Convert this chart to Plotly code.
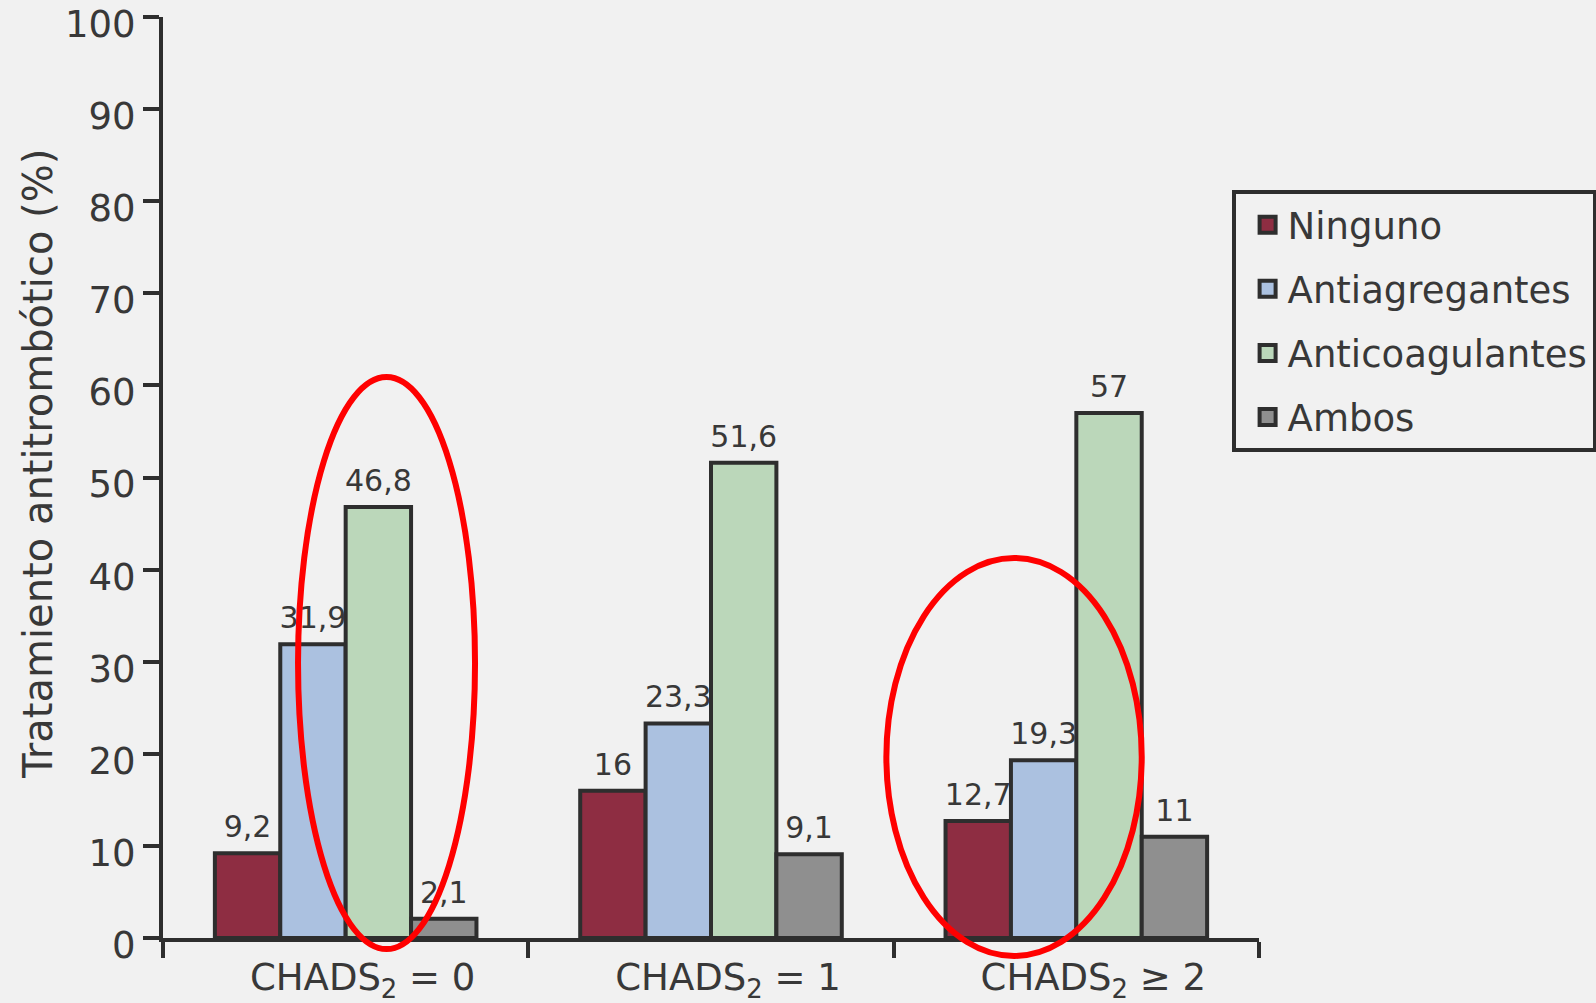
import plotly.graph_objects as go

# Antithrombotic treatment by CHADS2 score (percent of patients)
categories = ["CHADS<sub>2</sub> = 0", "CHADS<sub>2</sub> = 1", "CHADS<sub>2</sub> ≥ 2"]
series_names = ["Ninguno", "Antiagregantes", "Anticoagulantes", "Ambos"]
ninguno = [9.2, 16, 12.7]
antiagregantes = [31.9, 23.3, 19.3]
anticoagulantes = [46.8, 51.6, 57]
ambos = [2.1, 9.1, 11]
y_ticks = [0, 10, 20, 30, 40, 50, 60, 70, 80, 90, 100]

series_values = [ninguno, antiagregantes, anticoagulantes, ambos]
colors = ["#8e2d42", "#abc1e0", "#bbd7ba", "#8f8f8f"]
text_color = "#383838"
edge = "#2e2e2e"
bg = "#f1f1f1"
FONT = "DejaVu Sans, Verdana, sans-serif"
GAP = 0.284


def fmt(v):
    return f"{v:g}".replace(".", ",")


fig = go.Figure()
for name, vals, col in zip(series_names, series_values, colors):
    # bars
    fig.add_trace(go.Bar(
        name=name, x=categories, y=vals, showlegend=False,
        marker=dict(color=col, line=dict(color=edge, width=4)),
    ))
    # value labels, grouped like the bars so they sit above each bar
    fig.add_trace(go.Scatter(
        x=categories, y=vals, mode="markers+text", showlegend=False,
        text=[fmt(v) for v in vals], textposition="top center",
        marker=dict(size=12, color="rgba(0,0,0,0)"),
        textfont=dict(size=30, color=text_color, family=FONT),
        cliponaxis=False, hoverinfo="skip",
    ))
    # legend entry with a larger swatch
    fig.add_trace(go.Scatter(
        name=name, x=[None], y=[None], mode="markers", legendgroup=name,
        xaxis="x2", yaxis="y2",
        marker=dict(symbol="square", size=16, color=col, line=dict(color=edge, width=4)),
    ))

# Highlight ellipses
ellipse_style = dict(type="circle", xref="paper", yref="paper",
                     line=dict(color="#ff0000", width=6), layer="above")
fig.add_shape(x0=0.1232, x1=0.2847, y0=-0.012, y1=0.609, **ellipse_style)
fig.add_shape(x0=0.660, x1=0.893, y0=-0.0195, y1=0.4126, **ellipse_style)

fig.add_annotation(
    text="Tratamiento antitrombótico (%)",
    xref="paper", yref="paper", x=-0.114, y=0.515,
    textangle=-90, showarrow=False, xanchor="center", yanchor="middle",
    font=dict(size=40, color=text_color, family=FONT),
)

fig.update_layout(
    width=1596, height=1003,
    margin=dict(l=163, r=337, t=17, b=65, autoexpand=False),
    paper_bgcolor=bg, plot_bgcolor=bg,
    barmode="group", bargap=GAP, bargroupgap=0,
    scattermode="group", scattergap=GAP,
    font=dict(family=FONT, size=37, color=text_color),
    showlegend=True,
    legend=dict(
        x=0.975, y=0.812, xanchor="left", yanchor="top",
        bgcolor=bg, bordercolor=edge, borderwidth=4,
        traceorder="grouped", tracegroupgap=13,
        itemsizing="trace", indentation=12,
        font=dict(size=37, color=text_color, family=FONT),
        entrywidth=460,
    ),
    xaxis=dict(
        range=[-0.5, 2.5], showline=True, linecolor=edge, linewidth=4,
        ticks="outside", tickson="boundaries", ticklen=16, tickwidth=4, tickcolor=edge,
        tickfont=dict(size=37, color=text_color), showgrid=False, zeroline=False,
        ticklabelshift=17, ticklabelstandoff=4,
    ),
    yaxis=dict(
        range=[0, 100], tickvals=y_ticks, showline=True, linecolor=edge, linewidth=4,
        ticks="outside", ticklen=16, tickwidth=4, tickcolor=edge,
        tickfont=dict(size=37, color=text_color), showgrid=False, zeroline=False,
        ticklabeloverflow="allow", ticklabelshift=7,
    ),
    xaxis2=dict(overlaying="x", visible=False, range=[0, 1]),
    yaxis2=dict(overlaying="y", visible=False, range=[0, 1]),
)

fig.write_html("out.html")
